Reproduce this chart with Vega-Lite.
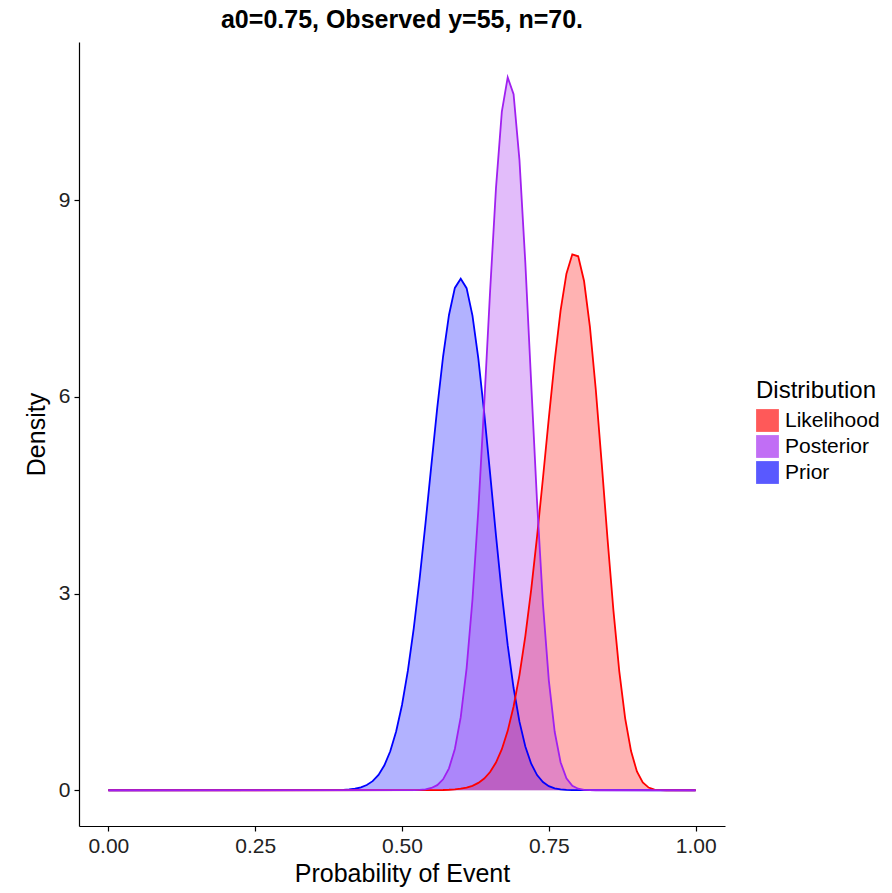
{
  "$schema": "https://vega.github.io/schema/vega-lite/v6.json",
  "width": 646,
  "height": 784,
  "autosize": {"type": "none"},
  "padding": {"left": 79, "top": 42, "right": 167, "bottom": 67},
  "background": "white",
  "config": {
    "view": {"stroke": null},
    "font": "Liberation Sans",
    "axis": {
      "domainColor": "black", "domainWidth": 1.2, "tickColor": "black", "tickSize": 5, "tickWidth": 1.2,
      "labelFontSize": 21, "labelColor": "#222222", "labelFont": "Liberation Sans",
      "titleFontSize": 25, "titleFontWeight": "normal", "titleColor": "black", "titleFont": "Liberation Sans",
      "grid": false
    }
  },
  "title": {"text": "a0=0.75, Observed y=55, n=70.", "fontSize": 25, "fontWeight": "bold", "font": "Liberation Sans", "color": "black", "anchor": "middle", "offset": 9},
  "data": {"values": [
    {"dist": "Prior", "p": 0.0, "density": 0},
    {"dist": "Prior", "p": 0.38, "density": 0.001},
    {"dist": "Prior", "p": 0.39, "density": 0.003},
    {"dist": "Prior", "p": 0.40, "density": 0.006},
    {"dist": "Prior", "p": 0.41, "density": 0.012},
    {"dist": "Prior", "p": 0.42, "density": 0.023},
    {"dist": "Prior", "p": 0.43, "density": 0.044},
    {"dist": "Prior", "p": 0.44, "density": 0.080},
    {"dist": "Prior", "p": 0.45, "density": 0.139},
    {"dist": "Prior", "p": 0.46, "density": 0.235},
    {"dist": "Prior", "p": 0.47, "density": 0.380},
    {"dist": "Prior", "p": 0.48, "density": 0.594},
    {"dist": "Prior", "p": 0.49, "density": 0.895},
    {"dist": "Prior", "p": 0.50, "density": 1.300},
    {"dist": "Prior", "p": 0.51, "density": 1.823},
    {"dist": "Prior", "p": 0.52, "density": 2.467},
    {"dist": "Prior", "p": 0.53, "density": 3.225},
    {"dist": "Prior", "p": 0.54, "density": 4.069},
    {"dist": "Prior", "p": 0.55, "density": 4.957},
    {"dist": "Prior", "p": 0.56, "density": 5.830},
    {"dist": "Prior", "p": 0.57, "density": 6.618},
    {"dist": "Prior", "p": 0.58, "density": 7.248},
    {"dist": "Prior", "p": 0.59, "density": 7.660},
    {"dist": "Prior", "p": 0.60, "density": 7.800},
    {"dist": "Prior", "p": 0.61, "density": 7.656},
    {"dist": "Prior", "p": 0.62, "density": 7.237},
    {"dist": "Prior", "p": 0.63, "density": 6.581},
    {"dist": "Prior", "p": 0.64, "density": 5.753},
    {"dist": "Prior", "p": 0.65, "density": 4.831},
    {"dist": "Prior", "p": 0.66, "density": 3.889},
    {"dist": "Prior", "p": 0.67, "density": 2.999},
    {"dist": "Prior", "p": 0.68, "density": 2.213},
    {"dist": "Prior", "p": 0.69, "density": 1.559},
    {"dist": "Prior", "p": 0.70, "density": 1.046},
    {"dist": "Prior", "p": 0.71, "density": 0.667},
    {"dist": "Prior", "p": 0.72, "density": 0.404},
    {"dist": "Prior", "p": 0.73, "density": 0.231},
    {"dist": "Prior", "p": 0.74, "density": 0.125},
    {"dist": "Prior", "p": 0.75, "density": 0.063},
    {"dist": "Prior", "p": 0.76, "density": 0.030},
    {"dist": "Prior", "p": 0.77, "density": 0.013},
    {"dist": "Prior", "p": 0.78, "density": 0.005},
    {"dist": "Prior", "p": 0.79, "density": 0.002},
    {"dist": "Prior", "p": 0.80, "density": 0.001},
    {"dist": "Prior", "p": 1.0, "density": 0},
    {"dist": "Likelihood", "p": 0.0, "density": 0},
    {"dist": "Likelihood", "p": 0.55, "density": 0.001},
    {"dist": "Likelihood", "p": 0.56, "density": 0.002},
    {"dist": "Likelihood", "p": 0.57, "density": 0.004},
    {"dist": "Likelihood", "p": 0.58, "density": 0.008},
    {"dist": "Likelihood", "p": 0.59, "density": 0.014},
    {"dist": "Likelihood", "p": 0.60, "density": 0.024},
    {"dist": "Likelihood", "p": 0.61, "density": 0.041},
    {"dist": "Likelihood", "p": 0.62, "density": 0.068},
    {"dist": "Likelihood", "p": 0.63, "density": 0.112},
    {"dist": "Likelihood", "p": 0.64, "density": 0.178},
    {"dist": "Likelihood", "p": 0.65, "density": 0.278},
    {"dist": "Likelihood", "p": 0.66, "density": 0.422},
    {"dist": "Likelihood", "p": 0.67, "density": 0.626},
    {"dist": "Likelihood", "p": 0.68, "density": 0.906},
    {"dist": "Likelihood", "p": 0.69, "density": 1.278},
    {"dist": "Likelihood", "p": 0.70, "density": 1.756},
    {"dist": "Likelihood", "p": 0.71, "density": 2.349},
    {"dist": "Likelihood", "p": 0.72, "density": 3.059},
    {"dist": "Likelihood", "p": 0.73, "density": 3.872},
    {"dist": "Likelihood", "p": 0.74, "density": 4.758},
    {"dist": "Likelihood", "p": 0.75, "density": 5.674},
    {"dist": "Likelihood", "p": 0.76, "density": 6.549},
    {"dist": "Likelihood", "p": 0.77, "density": 7.314},
    {"dist": "Likelihood", "p": 0.78, "density": 7.878},
    {"dist": "Likelihood", "p": 0.79, "density": 8.172},
    {"dist": "Likelihood", "p": 0.80, "density": 8.142},
    {"dist": "Likelihood", "p": 0.81, "density": 7.765},
    {"dist": "Likelihood", "p": 0.82, "density": 7.066},
    {"dist": "Likelihood", "p": 0.83, "density": 6.107},
    {"dist": "Likelihood", "p": 0.84, "density": 4.992},
    {"dist": "Likelihood", "p": 0.85, "density": 3.831},
    {"dist": "Likelihood", "p": 0.86, "density": 2.743},
    {"dist": "Likelihood", "p": 0.87, "density": 1.814},
    {"dist": "Likelihood", "p": 0.88, "density": 1.097},
    {"dist": "Likelihood", "p": 0.89, "density": 0.597},
    {"dist": "Likelihood", "p": 0.90, "density": 0.287},
    {"dist": "Likelihood", "p": 0.91, "density": 0.119},
    {"dist": "Likelihood", "p": 0.92, "density": 0.041},
    {"dist": "Likelihood", "p": 0.93, "density": 0.011},
    {"dist": "Likelihood", "p": 0.94, "density": 0.002},
    {"dist": "Likelihood", "p": 0.95, "density": 0},
    {"dist": "Likelihood", "p": 1.0, "density": 0},
    {"dist": "Posterior", "p": 0.0, "density": 0},
    {"dist": "Posterior", "p": 0.51, "density": 0.001},
    {"dist": "Posterior", "p": 0.52, "density": 0.002},
    {"dist": "Posterior", "p": 0.53, "density": 0.006},
    {"dist": "Posterior", "p": 0.54, "density": 0.014},
    {"dist": "Posterior", "p": 0.55, "density": 0.035},
    {"dist": "Posterior", "p": 0.56, "density": 0.078},
    {"dist": "Posterior", "p": 0.57, "density": 0.167},
    {"dist": "Posterior", "p": 0.58, "density": 0.334},
    {"dist": "Posterior", "p": 0.59, "density": 0.629},
    {"dist": "Posterior", "p": 0.60, "density": 1.115},
    {"dist": "Posterior", "p": 0.61, "density": 1.858},
    {"dist": "Posterior", "p": 0.62, "density": 2.909},
    {"dist": "Posterior", "p": 0.63, "density": 4.275},
    {"dist": "Posterior", "p": 0.64, "density": 5.892},
    {"dist": "Posterior", "p": 0.65, "density": 7.610},
    {"dist": "Posterior", "p": 0.66, "density": 9.178},
    {"dist": "Posterior", "p": 0.67, "density": 10.347},
    {"dist": "Posterior", "p": 0.68, "density": 10.870},
    {"dist": "Posterior", "p": 0.69, "density": 10.615},
    {"dist": "Posterior", "p": 0.70, "density": 9.612},
    {"dist": "Posterior", "p": 0.71, "density": 8.043},
    {"dist": "Posterior", "p": 0.72, "density": 6.204},
    {"dist": "Posterior", "p": 0.73, "density": 4.394},
    {"dist": "Posterior", "p": 0.74, "density": 2.843},
    {"dist": "Posterior", "p": 0.75, "density": 1.676},
    {"dist": "Posterior", "p": 0.76, "density": 0.892},
    {"dist": "Posterior", "p": 0.77, "density": 0.427},
    {"dist": "Posterior", "p": 0.78, "density": 0.182},
    {"dist": "Posterior", "p": 0.79, "density": 0.069},
    {"dist": "Posterior", "p": 0.80, "density": 0.023},
    {"dist": "Posterior", "p": 0.81, "density": 0.007},
    {"dist": "Posterior", "p": 0.82, "density": 0.002},
    {"dist": "Posterior", "p": 0.83, "density": 0},
    {"dist": "Posterior", "p": 1.0, "density": 0}
  ]},
  "encoding": {
    "x": {"field": "p", "type": "quantitative",
      "scale": {"domain": [-0.05, 1.05], "nice": false, "zero": false},
      "axis": {"values": [0, 0.25, 0.5, 0.75, 1], "format": ".2f", "title": "Probability of Event", "labelPadding": 4, "titlePadding": 5}},
    "y": {"field": "density", "type": "quantitative", "stack": null,
      "scale": {"domain": [-0.545, 11.41], "nice": false, "zero": false},
      "axis": {"values": [0, 3, 6, 9], "title": "Density", "labelPadding": 4, "titlePadding": 9}},
    "color": {"field": "dist", "type": "nominal",
      "scale": {"domain": ["Likelihood", "Posterior", "Prior"], "range": ["#FF0000", "#A020F0", "#0000FF"]},
      "legend": {"title": "Distribution", "orient": "none", "legendX": 677, "legendY": 337,
        "titleFontSize": 24, "titleFontWeight": "normal", "titleColor": "black", "titleFont": "Liberation Sans", "titlePadding": 6,
        "labelFontSize": 21, "labelColor": "black", "labelFont": "Liberation Sans", "labelOffset": 6,
        "symbolType": "square", "symbolSize": 520, "symbolOpacity": 0.65, "symbolStrokeWidth": 0, "rowPadding": 3}}
  },
  "layer": [
    {"mark": {"type": "area", "fillOpacity": 0.3}},
    {"transform": [{"filter": "datum.dist !== 'Posterior'"}],
     "mark": {"type": "line", "strokeWidth": 1.8}},
    {"transform": [{"filter": "datum.dist === 'Posterior'"}],
     "mark": {"type": "line", "strokeWidth": 1.8}}
  ]
}
